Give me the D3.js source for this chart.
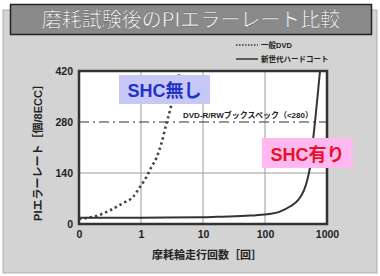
<!DOCTYPE html>
<html><head><meta charset="utf-8">
<script src="https://cdn.jsdelivr.net/npm/d3@7"></script>
<style>
html,body{margin:0;padding:0;background:#fff;}
svg{display:block;font-family:"Liberation Sans","Noto Sans CJK JP",sans-serif;}
</style></head>
<body>
<script>
// ---- data ----
const titleText = "磨耗試験後のPIエラーレート比較";
const xTickValues = [0.1, 1, 10, 100, 1000];
const xTickLabels = ["0", "1", "10", "100", "1000"];
const yTickValues = [0, 140, 280, 420];
const specValue = 280;
const seriesNames = ["一般DVD", "新世代ハードコート"];
const dvdCycles = [0.1, 0.19, 0.32, 0.51, 0.75, 0.95, 1.23, 1.48, 1.78, 2.14, 2.57, 2.95, 3.31, 3.8, 4.27];
const dvdPI     = [14, 22, 38, 57, 75, 100, 130, 157, 182, 222, 276, 313, 349, 386, 420];
const shcCycles = [0.1, 1, 10, 17, 57, 107, 174, 253, 344, 426, 481, 532, 583, 640, 703, 771];
const shcPI     = [17, 17.5, 18.5, 20, 23, 26.6, 34, 48, 66, 93, 121, 156, 217, 280, 349, 420];

const W = 380, H = 276;
const svg = d3.select("body").append("svg").attr("width", W).attr("height", H);

// background panel
svg.append("rect").attr("x", 3).attr("y", 10).attr("width", 374).attr("height", 263)
  .attr("fill", "#d3d3d3").attr("stroke", "#b0b0b0").attr("stroke-width", 1);

// title box
svg.append("rect").attr("x", 10.5).attr("y", 4.5).attr("width", 361).attr("height", 30)
  .attr("fill", "#8a8a8a").attr("stroke", "#222").attr("stroke-width", 1.5);
svg.append("text").attr("x", 191).attr("y", 27).attr("text-anchor", "middle")
  .attr("font-family", "Noto Sans CJK JP").attr("font-size", 20).attr("fill", "#fff")
  .attr("stroke", "#555").attr("stroke-width", 0.4)
  .text(titleText);

const x = d3.scaleLog().domain([0.1, 1000]).range([79, 327]);
const y = d3.scaleLinear().domain([0, 420]).range([224, 71]);

// plot background
svg.append("rect").attr("x", 79).attr("y", 71).attr("width", 248).attr("height", 153).attr("fill", "#fff");

// gridlines
svg.append("g").selectAll("line").data(xTickValues.slice(1, -1)).join("line")
  .attr("x1", d => x(d)).attr("x2", d => x(d)).attr("y1", 71).attr("y2", 224)
  .attr("stroke", "#9a9a9a").attr("stroke-width", 1);
svg.append("g").selectAll("line").data([140]).join("line")
  .attr("x1", 79).attr("x2", 327).attr("y1", d => y(d)).attr("y2", d => y(d))
  .attr("stroke", "#9a9a9a").attr("stroke-width", 1);
// spec dash-dot line
svg.append("line").attr("x1", 79).attr("x2", 327).attr("y1", y(specValue)).attr("y2", y(specValue))
  .attr("stroke", "#333").attr("stroke-width", 1.2).attr("stroke-dasharray", "10,4,2,4");

// clip
svg.append("clipPath").attr("id", "clip").append("rect")
  .attr("x", 79).attr("y", 71).attr("width", 248).attr("height", 153);

const line = d3.line().x(d => x(d[0])).y(d => y(d[1])).curve(d3.curveMonotoneX);
const dvd = dvdCycles.map((c, i) => [c, dvdPI[i]]);
const shc = shcCycles.map((c, i) => [c, shcPI[i]]);

svg.append("path").attr("d", line(dvd)).attr("clip-path", "url(#clip)")
  .attr("fill", "none").attr("stroke", "#444").attr("stroke-width", 2.6)
  .attr("stroke-dasharray", "2.4,3");
svg.append("path").attr("d", line(shc)).attr("clip-path", "url(#clip)")
  .attr("fill", "none").attr("stroke", "#333").attr("stroke-width", 2);

// border
svg.append("rect").attr("x", 79).attr("y", 71).attr("width", 248).attr("height", 153)
  .attr("fill", "none").attr("stroke", "#333").attr("stroke-width", 2.5);

// axes labels
const xAxis = d3.axisBottom(x).tickValues(xTickValues).tickSize(0).tickPadding(6)
  .tickFormat((d, i) => xTickLabels[i]);
const gx = svg.append("g").attr("transform", "translate(0,225)").call(xAxis);
gx.select(".domain").remove();
gx.selectAll("text").attr("font-size", 10.5).attr("font-weight", "bold").attr("fill", "#222")
  .attr("font-family", "Liberation Sans");

const yAxis = d3.axisLeft(y).tickValues(yTickValues).tickSize(0).tickPadding(6);
const gy = svg.append("g").attr("transform", "translate(79,0)").call(yAxis);
gy.select(".domain").remove();
gy.selectAll("text").attr("font-size", 10.5).attr("font-weight", "bold").attr("fill", "#222")
  .attr("font-family", "Liberation Sans");

svg.append("text").attr("x", 207).attr("y", 259).attr("text-anchor", "middle")
  .attr("font-size", 11).attr("font-weight", "bold").attr("fill", "#222")
  .text("摩耗輪走行回数［回］");
svg.append("text").attr("transform", "translate(42,150) rotate(-90)").attr("text-anchor", "middle")
  .attr("font-size", 11).attr("font-weight", "bold").attr("fill", "#222")
  .text("PIエラーレート［個/8ECC］");

// spec label
svg.append("text").attr("x", 183).attr("y", 118).attr("font-size", 8).attr("font-weight", "bold")
  .attr("fill", "#222").text("DVD-R/RWブックスペック（<280）");

// legend
svg.append("line").attr("x1", 236).attr("x2", 258).attr("y1", 45).attr("y2", 45)
  .attr("stroke", "#333").attr("stroke-width", 1.5).attr("stroke-dasharray", "1.5,1.5");
svg.append("text").attr("x", 261).attr("y", 48).attr("font-size", 7.5).attr("font-weight", "bold")
  .attr("fill", "#222").text(seriesNames[0]);
svg.append("line").attr("x1", 236).attr("x2", 258).attr("y1", 59).attr("y2", 59)
  .attr("stroke", "#333").attr("stroke-width", 1.5);
svg.append("text").attr("x", 261).attr("y", 62).attr("font-size", 7.5).attr("font-weight", "bold")
  .attr("fill", "#222").text(seriesNames[1]);

// annotations
svg.append("rect").attr("x", 119).attr("y", 75).attr("width", 91).attr("height", 29).attr("fill", "#c8c8f6");
svg.append("text").attr("x", 164.5).attr("y", 97).attr("text-anchor", "middle")
  .attr("font-size", 18).attr("font-weight", "bold").attr("fill", "#2233cc").text("SHC無し");
svg.append("rect").attr("x", 262).attr("y", 138).attr("width", 91).attr("height", 30).attr("fill", "#ffb8f0");
svg.append("text").attr("x", 307.5).attr("y", 161).attr("text-anchor", "middle")
  .attr("font-size", 18).attr("font-weight", "bold").attr("fill", "#e8102a").text("SHC有り");
</script>
</body></html>
